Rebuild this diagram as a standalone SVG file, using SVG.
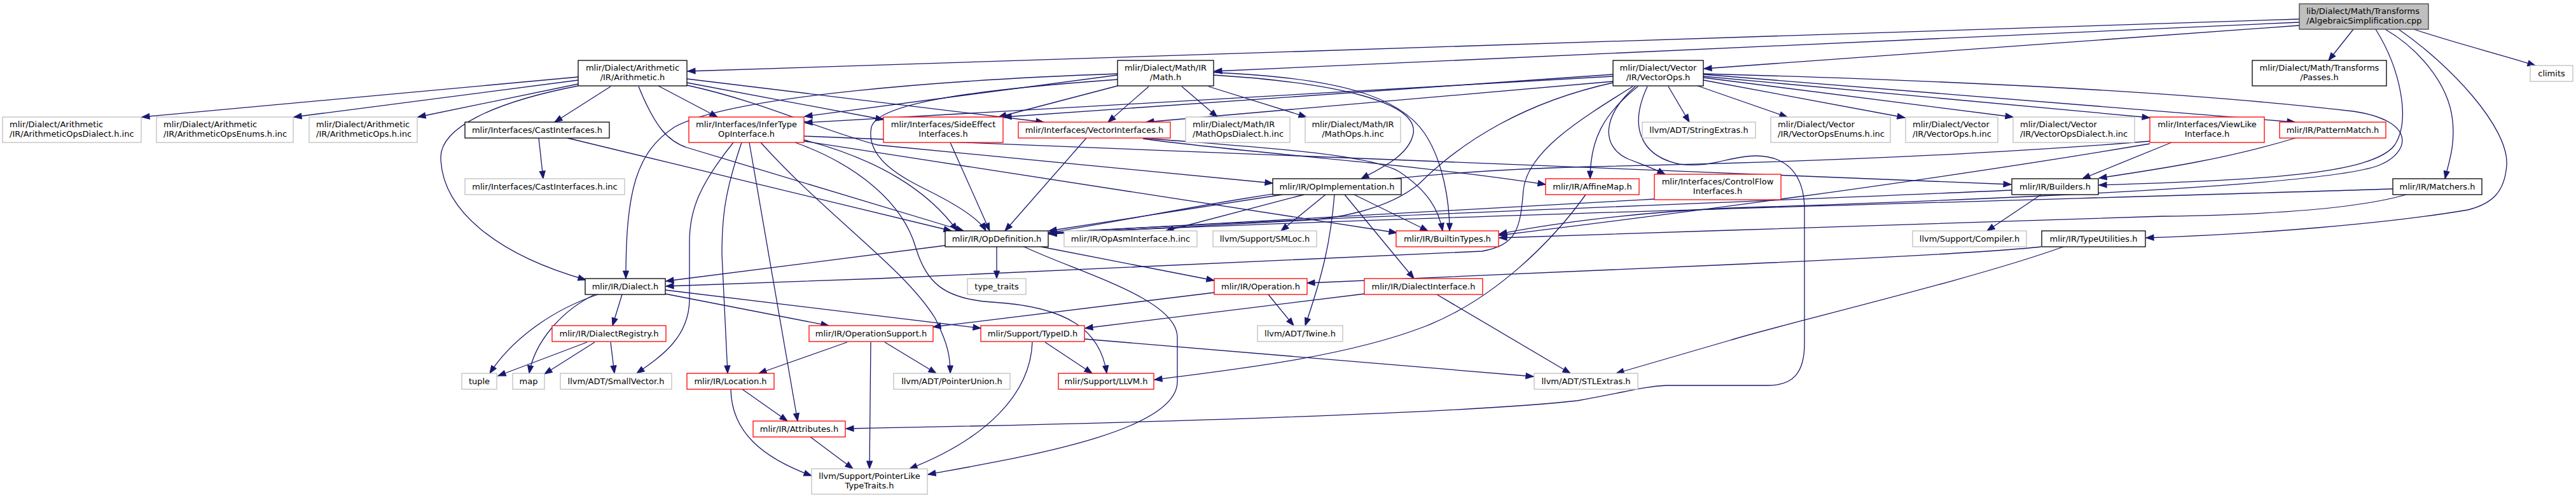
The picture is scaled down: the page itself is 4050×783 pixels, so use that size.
<svg xmlns="http://www.w3.org/2000/svg" width="4050" height="783" viewBox="0 0 4050 783">
<style>
.node rect{fill:#fff;stroke-width:1.3}
.b rect{stroke:#000}
.g rect{stroke:#bfbfbf}
.r rect{stroke:#f00}
.root rect{fill:#bfbfbf;stroke:#404040}
text{font-family:"DejaVu Sans",sans-serif;font-size:13px;fill:#000}
.c{text-anchor:middle}
.e path{fill:none;stroke:#191970;stroke-width:1.3;marker-end:url(#ah)}
</style>
<defs>
<marker id="ah" markerWidth="13" markerHeight="10" refX="12" refY="4.5" orient="auto" markerUnits="userSpaceOnUse" overflow="visible"><path d="M0,0 L12,4.5 L0,9 z" fill="#191970" stroke="#191970" stroke-width="1"/></marker>
</defs>
<rect width="4050" height="783" fill="#fff"/>
<g id="edges" class="e">
<path d="M3615,30 L1081,112"/>
<path d="M3615,35 L1909,112"/>
<path d="M3615,40 L2679,108"/>
<path d="M3700,46 L3661,95"/>
<path d="M3795,46 C3860,68 3930,85 3986,103"/>
<path d="M3750,46 C3800,75 3850,130 3856,190 C3860,230 3850,255 3844,281"/>
<path d="M3771,46 C3850,100 3945,200 3941,260 C3938,300 3920,320 3880,330 C3750,352 3550,368 3374,374"/>
<path d="M3735,46 C3775,110 3790,190 3765,228 C3730,275 3550,283 3300,291"/>
<path d="M2678,116 C3000,125 3400,140 3700,175 C3800,190 3790,240 3740,260 C3650,295 3000,318 2720,327 C2550,335 2420,355 2357,368"/>
<path d="M909,121 L223,184"/>
<path d="M909,126 L462,184"/>
<path d="M909,132 L657,184"/>
<path d="M909,135 C780,160 690,200 693,250 C696,330 780,400 921,440"/>
<path d="M960,136 L872,192"/>
<path d="M1035,135 L1128,184"/>
<path d="M1004,136 C1030,200 1050,222 1080,232 L1515,363"/>
<path d="M1080,124 L1641,192"/>
<path d="M1080,130 L1389,188"/>
<path d="M1080,134 C1200,160 1290,205 1380,228 L2001,288"/>
<path d="M1757,135 L1570,184"/>
<path d="M1806,136 L1742,192"/>
<path d="M1858,136 L1914,184"/>
<path d="M1900,136 L2054,184"/>
<path d="M1757,118 L1265,183"/>
<path d="M1757,116 C1500,125 1150,150 1060,200 C1000,240 984,300 984,438"/>
<path d="M1757,125 C1550,140 1380,160 1370,200 C1360,250 1420,280 1460,300 C1510,325 1540,345 1550,363"/>
<path d="M1908,118 C2100,130 2230,160 2222,210 C2215,245 2170,265 2140,281"/>
<path d="M1908,114 C2100,122 2200,150 2240,210 C2270,255 2279,320 2279,363"/>
<path d="M2669,135 L2810,184"/>
<path d="M2678,126 L2995,185"/>
<path d="M2678,122 L3165,184"/>
<path d="M2678,120 L3380,185"/>
<path d="M2678,117 L3608,192"/>
<path d="M2623,136 L2656,192"/>
<path d="M2571,136 C2520,180 2515,230 2560,250 C2580,258 2600,265 2618,274"/>
<path d="M2575,136 C2520,180 2500,220 2500,281"/>
<path d="M2590,136 C2560,200 2580,245 2640,258 C2690,265 2720,245 2760,245 C2810,245 2837,275 2837,330 L2837,540 C2837,585 2820,606 2780,606 L2620,606 C2580,608 2560,616 2480,630 C2300,650 1800,665 1330,674"/>
<path d="M2567,136 C2480,190 2400,240 2395,300 C2390,360 2385,385 2330,395 L1380,438 L1047,450"/>
<path d="M2536,130 C2400,160 2300,220 2230,290 C2180,330 2100,345 2040,347 L1649,368"/>
<path d="M2536,117 L1578,184"/>
<path d="M2536,120 L1265,193"/>
<path d="M2536,128 L1802,192"/>
<path d="M847,217 L854,281"/>
<path d="M892,217 L1496,363"/>
<path d="M1494,224 L1556,363"/>
<path d="M1708,217 L1580,363"/>
<path d="M1797,217 C1950,230 2150,240 2200,270 C2245,300 2262,330 2268,363"/>
<path d="M1797,218 C1950,240 2200,255 2430,290"/>
<path d="M1153,224 C1100,290 1084,330 1084,380 L1084,470 C1084,530 1040,560 1001,587"/>
<path d="M1166,224 C1140,300 1135,340 1135,400 L1144,587"/>
<path d="M1178,224 L1254,662"/>
<path d="M1196,224 C1300,340 1420,420 1470,500 C1490,540 1494,560 1494,587"/>
<path d="M1264,220 C1380,250 1460,300 1505,363"/>
<path d="M1264,214 L3162,290"/>
<path d="M1264,222 L2196,366"/>
<path d="M1250,224 C1350,260 1420,320 1440,390 C1455,440 1480,470 1560,475 C1680,482 1730,520 1740,587"/>
<path d="M3609,217 C3500,250 3400,265 3300,280"/>
<path d="M3414,224 L3274,281"/>
<path d="M3380,222 C3100,245 2800,256 2500,262 C2100,272 1900,325 1649,366"/>
<path d="M3380,226 C3000,290 2600,340 2357,370"/>
<path d="M3209,306 L3124,363"/>
<path d="M3163,299 C2700,320 2100,340 1649,366"/>
<path d="M3762,297 C3300,312 2200,340 1649,367"/>
<path d="M3783,306 C3700,330 3550,338 3400,340 L2720,362 L2357,374"/>
<path d="M2601,313 C2300,330 2000,345 1649,366"/>
<path d="M2016,306 L1649,363"/>
<path d="M2050,306 L1833,363"/>
<path d="M2084,306 L2014,363"/>
<path d="M2098,306 C2092,380 2080,430 2052,512"/>
<path d="M2114,306 L2223,438"/>
<path d="M2129,306 L2245,363"/>
<path d="M2493,306 C2440,380 2350,470 2241,513 C2120,560 1950,580 1815,597"/>
<path d="M1486,386 L1047,442"/>
<path d="M1567,388 L1567,438"/>
<path d="M1637,388 L1909,441"/>
<path d="M1610,388 C1700,430 1850,470 1851,530 L1851,600 C1851,680 1600,720 1459,746"/>
<path d="M940,463 C860,490 800,540 770,587"/>
<path d="M935,463 C880,490 840,540 832,587"/>
<path d="M978,463 L963,512"/>
<path d="M1046,462 L1303,512"/>
<path d="M1046,456 L1542,516"/>
<path d="M923,538 L783,591"/>
<path d="M935,538 L856,588"/>
<path d="M960,538 L966,587"/>
<path d="M1909,460 L1467,514"/>
<path d="M1994,463 L2034,512"/>
<path d="M2259,463 L2469,587"/>
<path d="M2145,462 L1706,516"/>
<path d="M1332,538 L1193,587"/>
<path d="M1391,538 L1472,587"/>
<path d="M1369,538 L1367,737"/>
<path d="M1643,538 L1717,587"/>
<path d="M1623,538 C1620,620 1550,690 1430,737"/>
<path d="M1705,533 L2411,592"/>
<path d="M1167,612 L1238,662"/>
<path d="M1149,612 C1150,680 1200,720 1276,748"/>
<path d="M1274,687 L1341,737"/>
<path d="M3209,388 C3100,400 2800,412 2720,416 L2055,445"/>
<path d="M3244,388 C3100,440 2800,510 2720,535 L2541,587"/>
</g>
<g id="root" class="node root"><rect x="3615" y="6" width="203" height="40"/><text x="3626" y="22">lib/Dialect/Math/Transforms</text><text x="3626" y="37">/AlgebraicSimplification.cpp</text></g>
<g id="arith" class="node b"><rect x="909" y="95" width="171" height="40"/><text class="c" x="994.5" y="111">mlir/Dialect/Arithmetic</text><text class="c" x="994.5" y="126">/IR/Arithmetic.h</text></g>
<g id="math" class="node b"><rect x="1757" y="95" width="151" height="40"/><text class="c" x="1832.5" y="111">mlir/Dialect/Math/IR</text><text class="c" x="1832.5" y="126">/Math.h</text></g>
<g id="vecops" class="node b"><rect x="2536" y="95" width="142" height="40"/><text class="c" x="2607" y="111">mlir/Dialect/Vector</text><text class="c" x="2607" y="126">/IR/VectorOps.h</text></g>
<g id="passes" class="node b"><rect x="3541" y="95" width="211" height="40"/><text class="c" x="3646.5" y="111">mlir/Dialect/Math/Transforms</text><text class="c" x="3646.5" y="126">/Passes.h</text></g>
<g id="climits" class="node g"><rect x="3978" y="103" width="67" height="25"/><text class="c" x="4011.5" y="120">climits</text></g>
<g id="aod" class="node g"><rect x="4" y="184" width="218" height="40"/><text x="15" y="200">mlir/Dialect/Arithmetic</text><text x="15" y="215">/IR/ArithmeticOpsDialect.h.inc</text></g>
<g id="aoe" class="node g"><rect x="246" y="184" width="215" height="40"/><text x="257" y="200">mlir/Dialect/Arithmetic</text><text x="257" y="215">/IR/ArithmeticOpsEnums.h.inc</text></g>
<g id="aoinc" class="node g"><rect x="486" y="184" width="170" height="40"/><text x="497" y="200">mlir/Dialect/Arithmetic</text><text x="497" y="215">/IR/ArithmeticOps.h.inc</text></g>
<g id="cast" class="node b"><rect x="731" y="192" width="227" height="25"/><text class="c" x="844.5" y="209">mlir/Interfaces/CastInterfaces.h</text></g>
<g id="infer" class="node r"><rect x="1083" y="184" width="181" height="40"/><text class="c" x="1173.5" y="200">mlir/Interfaces/InferType</text><text class="c" x="1173.5" y="215">OpInterface.h</text></g>
<g id="side" class="node r"><rect x="1389" y="184" width="188" height="40"/><text class="c" x="1483" y="200">mlir/Interfaces/SideEffect</text><text class="c" x="1483" y="215">Interfaces.h</text></g>
<g id="vecif" class="node r"><rect x="1601" y="192" width="239" height="25"/><text class="c" x="1720.5" y="209">mlir/Interfaces/VectorInterfaces.h</text></g>
<g id="mathdia" class="node g"><rect x="1864" y="184" width="164" height="40"/><text x="1875" y="200">mlir/Dialect/Math/IR</text><text x="1875" y="215">/MathOpsDialect.h.inc</text></g>
<g id="mathinc" class="node g"><rect x="2052" y="184" width="150" height="40"/><text class="c" x="2127" y="200">mlir/Dialect/Math/IR</text><text class="c" x="2127" y="215">/MathOps.h.inc</text></g>
<g id="strext" class="node g"><rect x="2582" y="192" width="178" height="25"/><text class="c" x="2671" y="209">llvm/ADT/StringExtras.h</text></g>
<g id="venums" class="node g"><rect x="2784" y="184" width="188" height="40"/><text x="2795" y="200">mlir/Dialect/Vector</text><text x="2795" y="215">/IR/VectorOpsEnums.h.inc</text></g>
<g id="vinc" class="node g"><rect x="2996" y="184" width="145" height="40"/><text x="3007" y="200">mlir/Dialect/Vector</text><text x="3007" y="215">/IR/VectorOps.h.inc</text></g>
<g id="vdia" class="node g"><rect x="3165" y="184" width="191" height="40"/><text x="3176" y="200">mlir/Dialect/Vector</text><text x="3176" y="215">/IR/VectorOpsDialect.h.inc</text></g>
<g id="viewlike" class="node r"><rect x="3380" y="184" width="180" height="40"/><text class="c" x="3470" y="200">mlir/Interfaces/ViewLike</text><text class="c" x="3470" y="215">Interface.h</text></g>
<g id="pattern" class="node r"><rect x="3584" y="192" width="167" height="25"/><text class="c" x="3667.5" y="209">mlir/IR/PatternMatch.h</text></g>
<g id="castinc" class="node g"><rect x="731" y="281" width="251" height="25"/><text class="c" x="856.5" y="298">mlir/Interfaces/CastInterfaces.h.inc</text></g>
<g id="opimpl" class="node b"><rect x="2001" y="281" width="202" height="25"/><text class="c" x="2102" y="298">mlir/IR/OpImplementation.h</text></g>
<g id="affine" class="node r"><rect x="2430" y="281" width="147" height="25"/><text class="c" x="2503.5" y="298">mlir/IR/AffineMap.h</text></g>
<g id="cflow" class="node r"><rect x="2601" y="274" width="199" height="40"/><text class="c" x="2700.5" y="290">mlir/Interfaces/ControlFlow</text><text class="c" x="2700.5" y="305">Interfaces.h</text></g>
<g id="builders" class="node b"><rect x="3163" y="281" width="136" height="25"/><text class="c" x="3231" y="298">mlir/IR/Builders.h</text></g>
<g id="matchers" class="node b"><rect x="3762" y="281" width="140" height="25"/><text class="c" x="3832" y="298">mlir/IR/Matchers.h</text></g>
<g id="opdef" class="node b"><rect x="1486" y="363" width="162" height="25"/><text class="c" x="1567" y="380">mlir/IR/OpDefinition.h</text></g>
<g id="opasm" class="node g"><rect x="1673" y="363" width="209" height="25"/><text class="c" x="1777.5" y="380">mlir/IR/OpAsmInterface.h.inc</text></g>
<g id="smloc" class="node g"><rect x="1907" y="363" width="163" height="25"/><text class="c" x="1988.5" y="380">llvm/Support/SMLoc.h</text></g>
<g id="builtintypes" class="node r"><rect x="2195" y="363" width="161" height="25"/><text class="c" x="2275.5" y="380">mlir/IR/BuiltinTypes.h</text></g>
<g id="compiler" class="node g"><rect x="3007" y="363" width="179" height="25"/><text class="c" x="3096.5" y="380">llvm/Support/Compiler.h</text></g>
<g id="typeutil" class="node b"><rect x="3210" y="363" width="163" height="25"/><text class="c" x="3291.5" y="380">mlir/IR/TypeUtilities.h</text></g>
<g id="dialect" class="node b"><rect x="920" y="438" width="126" height="25"/><text class="c" x="983" y="455">mlir/IR/Dialect.h</text></g>
<g id="typetraits" class="node g"><rect x="1521" y="438" width="92" height="25"/><text class="c" x="1567" y="455">type_traits</text></g>
<g id="operation" class="node r"><rect x="1909" y="438" width="146" height="25"/><text class="c" x="1982" y="455">mlir/IR/Operation.h</text></g>
<g id="dialiface" class="node r"><rect x="2145" y="438" width="186" height="25"/><text class="c" x="2238" y="455">mlir/IR/DialectInterface.h</text></g>
<g id="dialreg" class="node r"><rect x="868" y="512" width="179" height="25"/><text class="c" x="957.5" y="529">mlir/IR/DialectRegistry.h</text></g>
<g id="opsupport" class="node r"><rect x="1272" y="512" width="195" height="25"/><text class="c" x="1369.5" y="529">mlir/IR/OperationSupport.h</text></g>
<g id="typeid" class="node r"><rect x="1542" y="512" width="163" height="25"/><text class="c" x="1623.5" y="529">mlir/Support/TypeID.h</text></g>
<g id="twine" class="node g"><rect x="1977" y="512" width="134" height="25"/><text class="c" x="2044" y="529">llvm/ADT/Twine.h</text></g>
<g id="tuple" class="node g"><rect x="726" y="587" width="55" height="25"/><text class="c" x="753.5" y="604">tuple</text></g>
<g id="map" class="node g"><rect x="806" y="587" width="50" height="25"/><text class="c" x="831" y="604">map</text></g>
<g id="smallvec" class="node g"><rect x="881" y="587" width="175" height="25"/><text class="c" x="968.5" y="604">llvm/ADT/SmallVector.h</text></g>
<g id="location" class="node r"><rect x="1080" y="587" width="137" height="25"/><text class="c" x="1148.5" y="604">mlir/IR/Location.h</text></g>
<g id="ptrunion" class="node g"><rect x="1405" y="587" width="183" height="25"/><text class="c" x="1496.5" y="604">llvm/ADT/PointerUnion.h</text></g>
<g id="llvmh" class="node r"><rect x="1664" y="587" width="150" height="25"/><text class="c" x="1739" y="604">mlir/Support/LLVM.h</text></g>
<g id="stlextras" class="node g"><rect x="2412" y="587" width="163" height="25"/><text class="c" x="2493.5" y="604">llvm/ADT/STLExtras.h</text></g>
<g id="attributes" class="node r"><rect x="1184" y="662" width="145" height="25"/><text class="c" x="1256.5" y="679">mlir/IR/Attributes.h</text></g>
<g id="ptrlike" class="node g"><rect x="1276" y="737" width="182" height="40"/><text class="c" x="1367" y="753">llvm/Support/PointerLike</text><text class="c" x="1367" y="768">TypeTraits.h</text></g>
</svg>
